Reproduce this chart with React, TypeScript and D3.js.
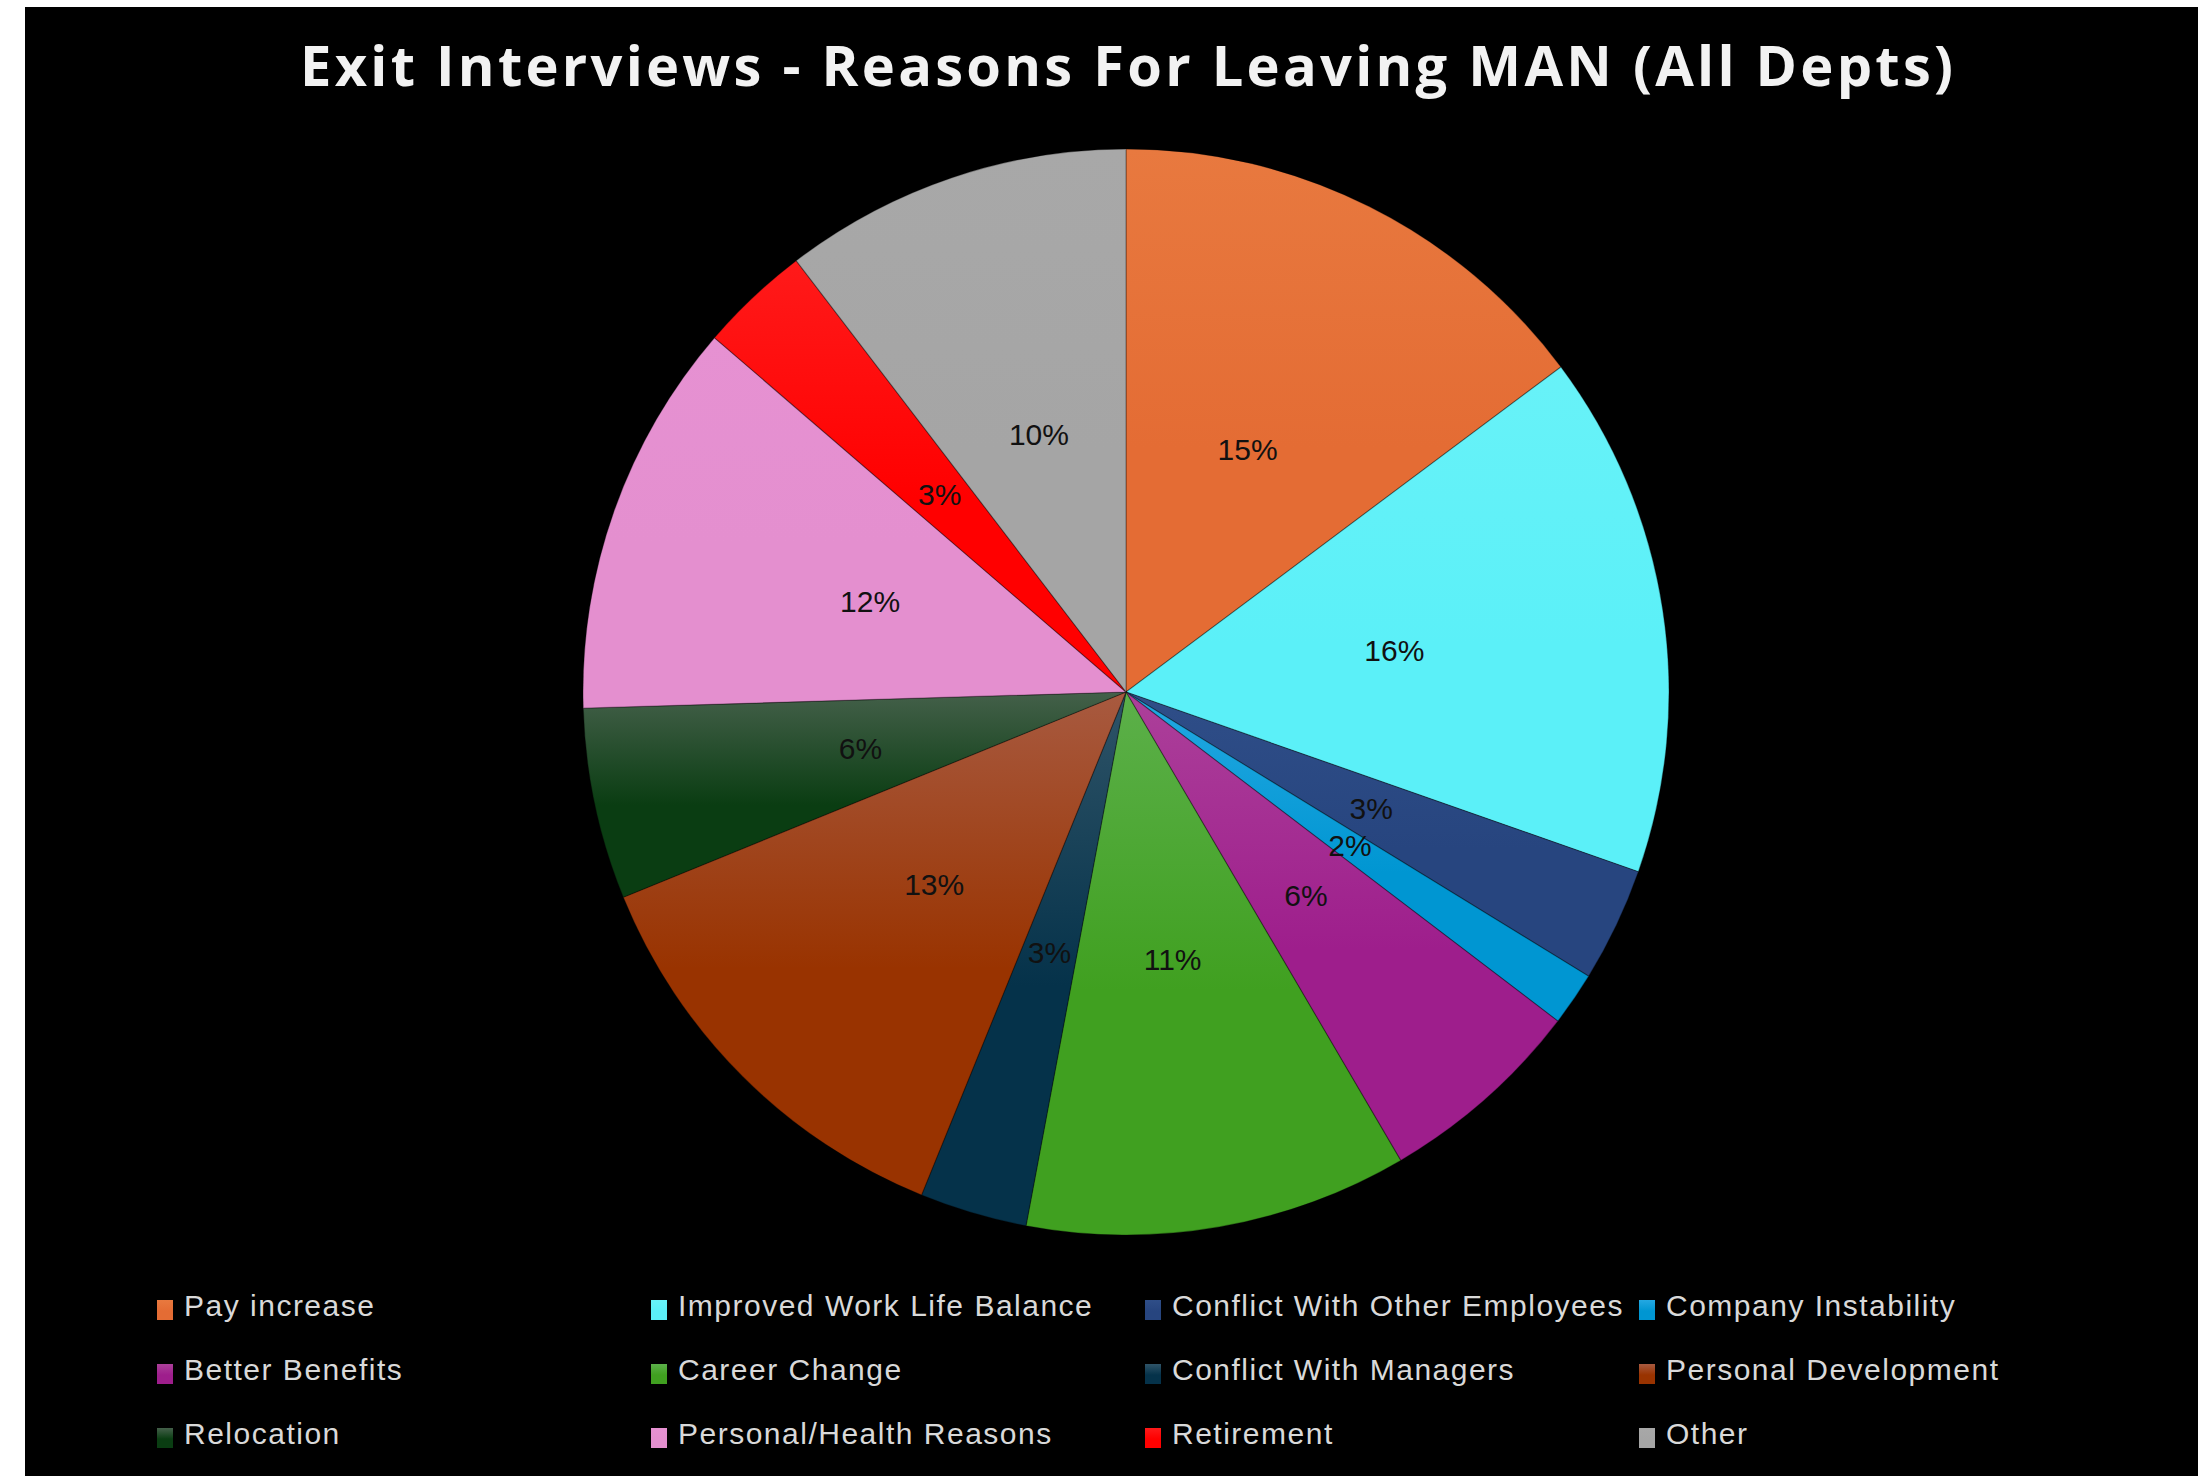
import React, { useEffect, useRef } from 'react';
import * as d3 from 'd3';

// Exit interview reasons (share of leavers)
const reasons = [
  'Pay increase',
  'Improved Work Life Balance',
  'Conflict With Other Employees',
  'Company Instability',
  'Better Benefits',
  'Career Change',
  'Conflict With Managers',
  'Personal Development',
  'Relocation',
  'Personal/Health Reasons',
  'Retirement',
  'Other',
];
const shares = [14.8, 15.6, 3.4, 1.6, 6.2, 11.4, 3.2, 12.7, 5.7, 11.8, 3.3, 10.4];

// fill colours: base + lighter top of the vertical gradient
const baseColors = ['#E46C34', '#5BF0F8', '#27457F', '#0096D2', '#9E1E8C', '#40A020', '#05324A', '#993300', '#0A3D12', '#E48FCF', '#FF0000', '#A5A5A5'];
const topColors = ['#E8793F', '#68F2F8', '#2F4E88', '#24A8E2', '#AC409A', '#5CB04A', '#2F5468', '#A85A40', '#44604A', '#E691D2', '#FF1A1A', '#A8A8A8'];

const title = 'Exit Interviews - Reasons For Leaving MAN (All Depts)';

export default function App() {
  const svgRef = useRef<SVGSVGElement>(null);

  useEffect(() => {
    if (!svgRef.current) return;
    const width = 2206;
    const height = 1476;
    const cx = 1126;
    const cy = 692;
    const radius = 543;

    const svg = d3.select(svgRef.current);
    svg.selectAll('*').remove();
    svg.attr('width', width).attr('height', height);

    const data = reasons.map((name, i) => ({ name, value: shares[i], i }));
    const total = d3.sum(data, d => d.value);

    // gradients, one per slice
    const defs = svg.append('defs');
    data.forEach(d => {
      const g = defs.append('linearGradient')
        .attr('id', `grad-${d.i}`)
        .attr('x1', 0).attr('y1', 0).attr('x2', 0).attr('y2', 1);
      g.append('stop').attr('offset', '0%').attr('stop-color', topColors[d.i]);
      g.append('stop').attr('offset', '55%').attr('stop-color', baseColors[d.i]);
      g.append('stop').attr('offset', '100%').attr('stop-color', baseColors[d.i]);
    });

    svg.append('rect').attr('width', width).attr('height', height).attr('fill', '#fff');
    svg.append('rect')
      .attr('x', 25).attr('y', 7)
      .attr('width', 2198 - 25).attr('height', height - 7)
      .attr('fill', '#000');

    svg.append('text')
      .attr('x', 300)
      .attr('y', 86)
      .attr('textLength', 1653)
      .attr('lengthAdjust', 'spacing')
      .style('font-family', '"Open Sans", "DejaVu Sans", sans-serif')
      .style('font-weight', '700')
      .style('font-size', '56px')
      .style('fill', '#f2f2f2')
      .text(title);

    const pie = d3.pie<typeof data[0]>().sort(null).value(d => d.value);
    const arcs = pie(data);

    const arc = d3.arc<d3.PieArcDatum<typeof data[0]>>()
      .innerRadius(0)
      .outerRadius(radius);
    const labelArc = d3.arc<d3.PieArcDatum<typeof data[0]>>()
      .innerRadius(radius * 0.5)
      .outerRadius(radius * 0.5);

    const g = svg.append('g').attr('transform', `translate(${cx},${cy})`);

    g.selectAll('path')
      .data(arcs)
      .join('path')
      .attr('d', arc as any)
      .attr('fill', d => `url(#grad-${d.data.i})`)
      .attr('stroke', 'rgba(0,0,0,0.3)')
      .attr('stroke-width', 1.2);

    g.selectAll('text')
      .data(arcs)
      .join('text')
      .attr('transform', d => `translate(${labelArc.centroid(d)})`)
      .attr('text-anchor', 'middle')
      .attr('dominant-baseline', 'central')
      .style('font-family', '"Liberation Sans", Arial, sans-serif')
      .style('font-size', '30px')
      .style('fill', '#111')
      .text(d => `${Math.round((d.data.value / total) * 100)}%`);

    // legend: 4 columns x 3 rows
    const colX = d3.scalePoint<number>().domain([0, 1, 2, 3]).range([157, 1639]);
    const rowY = d3.scalePoint<number>().domain([0, 1, 2]).range([1316, 1444]);

    const legend = svg.append('g')
      .selectAll('g')
      .data(data)
      .join('g')
      .attr('transform', d => `translate(${colX(d.i % 4)},${rowY(Math.floor(d.i / 4))})`);

    legend.append('rect')
      .attr('x', 0).attr('y', -16)
      .attr('width', 16).attr('height', 20)
      .attr('fill', d => `url(#grad-${d.i})`);

    legend.append('text')
      .attr('x', 27)
      .attr('y', 0)
      .style('font-family', '"Liberation Sans", Arial, sans-serif')
      .style('font-size', '30px')
      .style('letter-spacing', '1.5px')
      .style('fill', '#d9d9d9')
      .text(d => d.name);
  }, []);

  return (
    <div style={{ position: 'absolute', left: 0, top: 0 }}>
      <svg ref={svgRef}></svg>
    </div>
  );
}
